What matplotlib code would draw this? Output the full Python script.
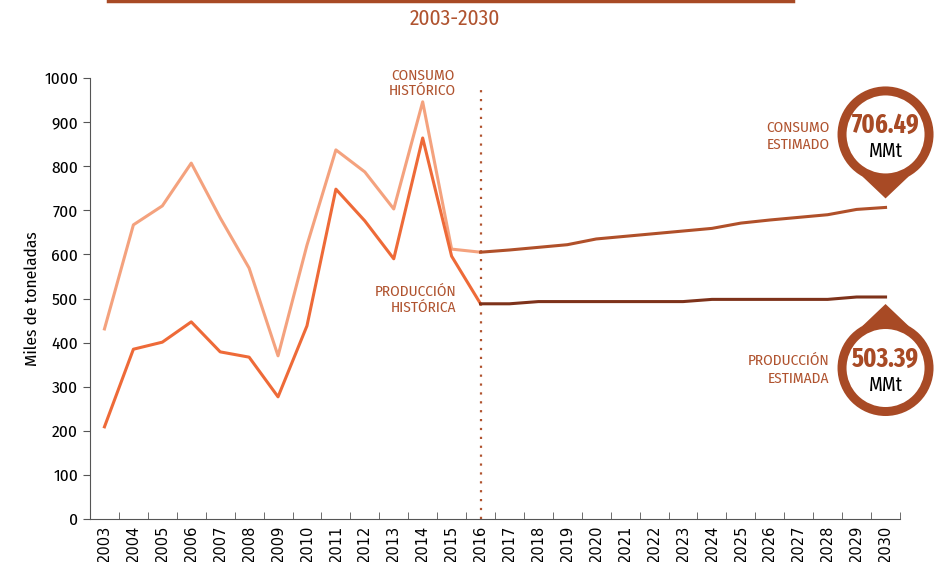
import numpy as np
import matplotlib.pyplot as plt
from matplotlib.patches import Circle, Polygon
from matplotlib.lines import Line2D

plt.rcParams['font.family'] = ['Fira Sans Condensed', 'PT Sans Narrow', 'DejaVu Sans']
num_font = ['Fira Sans Extra Condensed', 'Fira Sans Condensed', 'DejaVu Sans']

# data
years = list(range(2003, 2031))
hist_years = list(range(2003, 2017))
fc_years = list(range(2016, 2031))
consumo_hist = [431, 667, 710, 807, 683, 569, 370, 621, 837, 787, 703, 946, 612, 605]
produccion_hist = [209, 385, 401, 447, 379, 367, 277, 438, 748, 676, 590, 864, 596, 488]
consumo_est = [605, 610, 616, 622, 635, 641, 647, 653, 659, 671, 678, 684, 690, 702, 706.49]
produccion_est = [488, 488, 493, 493, 493, 493, 493, 493, 498, 498, 498, 498, 498, 503.39, 503.39]

c_light = '#F4A27E'
c_prod = '#EE6A38'
c_cons_est = '#B0502A'
c_prod_est = '#7E321A'
c_text = '#B0532F'
c_ring = '#A84A25'

W, H = 941, 562
fig = plt.figure(figsize=(W / 100, H / 100), dpi=100)
ax = fig.add_axes([90 / W, 1 - 519 / H, 810 / W, 441 / H])

xi = lambda ys: [years.index(y) for y in ys]
ax.plot(xi(hist_years), consumo_hist, color=c_light, lw=2.2, zorder=3)
ax.plot(xi(hist_years), produccion_hist, color=c_prod, lw=2.2, zorder=3)
ax.plot(xi(fc_years), consumo_est, color=c_cons_est, lw=2.2, zorder=4)
ax.plot(xi(fc_years), produccion_est, color=c_prod_est, lw=2.2, zorder=4)

ax.axvline(years.index(2016), ymin=0, ymax=0.985, color=c_text, lw=1.6,
           linestyle=(0, (1, 3)), zorder=2)

ax.set_xlim(-0.5, len(years) - 0.5)
ax.set_ylim(0, 1000)
ax.set_yticks(range(0, 1001, 100))
ax.set_xticks(range(len(years)))
ax.set_xticklabels([str(y) for y in years], rotation=90, fontsize=10.5,
                   family='DejaVu Sans')
ax.set_xticks(np.arange(-0.5, len(years)), minor=True)
ax.tick_params(axis='x', which='major', length=0, pad=4)
ax.tick_params(axis='x', which='minor', direction='in', length=5, color='#555555')
ax.tick_params(axis='y', length=5, color='#555555', labelsize=12.5)
for s in ['top', 'right']:
    ax.spines[s].set_visible(False)
ax.spines['left'].set_color('#555555')
ax.spines['bottom'].set_color('#555555')
ax.set_ylabel('Miles de toneladas', fontsize=12.5, labelpad=3)

ax.text(years.index(2014), 988, 'CONSUMO\nHISTÓRICO', ha='center', va='center',
        color=c_text, fontsize=11, linespacing=1.15)
ax.text(years.index(2014) + 1.15, 497, 'PRODUCCIÓN\nHISTÓRICA', ha='right', va='center',
        color=c_text, fontsize=11, linespacing=1.15)

# overlay in pixel space
ov = fig.add_axes([0, 0, 1, 1], zorder=5)
ov.set_xlim(0, W)
ov.set_ylim(H, 0)
ov.axis('off')
ov.patch.set_alpha(0)

ov.add_line(Line2D([108, 793], [1, 1], color=c_ring, lw=2.5))
ov.text(455, 19, '2003-2030', ha='center', va='center', color=c_text, fontsize=15.5)


def bubble(year, val, value_txt, label, up):
    px, py = ax.transData.transform((years.index(year), val))
    py = H - py
    r_out, r_in = 48, 39
    if up:
        tip = (px, py - 9)
        cx, cy = px, tip[1] - 64
        ang = np.pi / 2
    else:
        tip = (px, py + 7)
        cx, cy = px, tip[1] + 64
        ang = -np.pi / 2
    a1, a2 = ang - 0.5, ang + 0.5
    pts = [tip, (cx + r_out * np.cos(a1), cy + r_out * np.sin(a1)),
           (cx, cy), (cx + r_out * np.cos(a2), cy + r_out * np.sin(a2))]
    ov.add_patch(Polygon(pts, closed=True, color=c_ring, lw=0))
    ov.add_patch(Circle((cx, cy), r_out, color=c_ring, lw=0))
    ov.add_patch(Circle((cx, cy), r_in, color='white', lw=0))
    ov.text(cx, cy - 9, value_txt, ha='center', va='center', color=c_ring,
            fontsize=19, fontweight='bold', family=num_font)
    ov.text(cx, cy + 17, 'MMt', ha='center', va='center', color='black', fontsize=14)
    ov.text(cx - 56, cy + 2, label, ha='right', va='center', color=c_text,
            fontsize=11, linespacing=1.3)


bubble(2030, consumo_est[-1], f'{consumo_est[-1]:.2f}', 'CONSUMO\nESTIMADO', True)
bubble(2030, produccion_est[-1], f'{produccion_est[-1]:.2f}', 'PRODUCCIÓN\nESTIMADA', False)

fig.savefig('out.png', dpi=100)
